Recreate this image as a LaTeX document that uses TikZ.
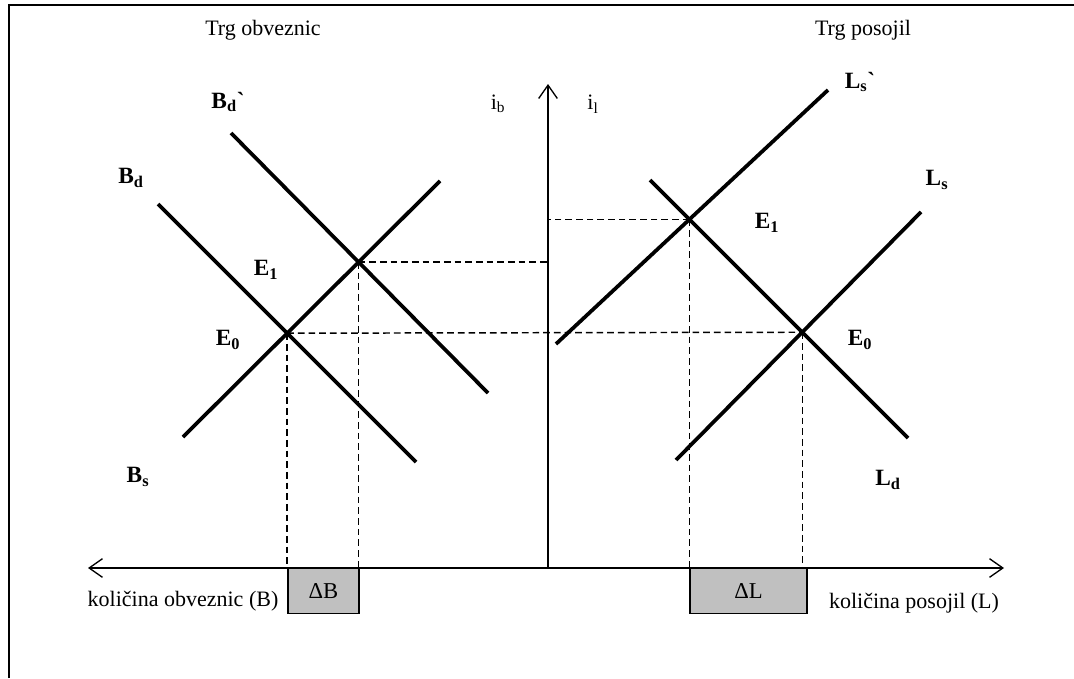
\documentclass[tikz,border=0pt]{standalone}
\usepackage{fontspec}
\setmainfont{Liberation Serif}
\newfontfamily\rawserif{Liberation Serif}
\usetikzlibrary{arrows.meta,intersections}
\newcommand{\grv}{{\rawserif\symbol{96}}}
\definecolor{boxgray}{RGB}{192,192,192}

\begin{document}
\begin{tikzpicture}[
	x = 0.75pt, y = -0.75pt,
	> = {Straight Barb[length=10pt, width=14pt, line width=1pt]}, % open arrow heads
	curve/.style = {line width=2.8pt},
	axis/.style = {line width=1pt},
	guide/.style = {line width=1.1pt, dash pattern=on 5pt off 3pt},
	lbl/.style = {font=\fontsize{17.5}{20}\selectfont\bfseries, inner sep=0pt},
	txt/.style = {font=\fontsize{16.5}{19}\selectfont, inner sep=0pt},
	delta/.style = {draw, line width=1pt, fill=boxgray, anchor=north west,
		font=\fontsize{17}{19}\selectfont, inner sep=0pt}
	]
	
	\useasboundingbox (0,0) rectangle (1074,678);
	
	% frame
	\draw[line width=1.4pt] (9,678) -- (9,5) -- (1074,5);
	
	% axes
	\coordinate (origin) at (548,568);
	\coordinate (xl) at (88,568);
	\coordinate (xr) at (1004,568);
	\coordinate (yt) at (548,84);
	
	% bond market
	\coordinate (bd1) at (158,204);  \coordinate (bd2) at (416,462);
	\coordinate (bdd1) at (231,133); \coordinate (bdd2) at (488,393);
	\coordinate (bs1) at (183,437);  \coordinate (bs2) at (440,181);
	
	% loan market
	\coordinate (ld1) at (650,180);  \coordinate (ld2) at (908,438);
	\coordinate (ls1) at (676,460);  \coordinate (ls2) at (921,212);
	\coordinate (lss1) at (556,344); \coordinate (lss2) at (828,90);
	
	\draw[curve, name path=bd] (bd1) -- (bd2);
	\draw[curve, name path=bdd] (bdd1) -- (bdd2);
	\draw[curve, name path=bs] (bs1) -- (bs2);
	\draw[curve, name path=ld] (ld1) -- (ld2);
	\draw[curve, name path=ls] (ls1) -- (ls2);
	\draw[curve, name path=lss] (lss1) -- (lss2);
	
	\path[name intersections={of=bd and bs, by=Eb0}];
	\path[name intersections={of=bdd and bs, by=Eb1}];
	\path[name intersections={of=ld and ls, by=El0}];
	\path[name intersections={of=ld and lss, by=El1}];
	
	% ΔB and ΔL boxes
	\node[delta, minimum width=53.25pt, minimum height=33.75pt] (dB) at (Eb0 |- origin) {ΔB};
	\node[delta, minimum width=87.75pt, minimum height=33.75pt] (dL) at (El1 |- origin) {ΔL};
	
	% guide lines
	\draw[guide] (Eb0) -- (El0);
	\draw[guide] (Eb1) -- (Eb1 -| origin);
	\draw[guide] (El1) -- (El1 -| origin);
	\draw[guide] (Eb0) -- (Eb0 |- origin);
	\draw[guide] (Eb1) -- (Eb1 |- origin);
	\draw[guide] (El1) -- (El1 |- origin);
	\draw[guide] (El0) -- (El0 |- origin);
	
	\draw[axis, <->] (xl) -- (xr);
	\draw[axis, ->] (origin) -- (yt);
	
	% labels
	\node[txt] (tb) at (263,30) {Trg obveznic};
	\node[txt] (tl) at (863,30) {Trg posojil};
	\node[lbl] (lbdd) at (228,102) {B\textsubscript{d}\grv};
	\node[lbl] (lbd) at (131,178) {B\textsubscript{d}};
	\node[lbl] (lbs) at (138,477) {B\textsubscript{s}};
	\node[lbl] (leb1) at (266,270) {E\textsubscript{1}};
	\node[lbl] (leb0) at (228,340) {E\textsubscript{0}};
	\node[txt] (lib) at (498,104) {i\textsubscript{b}};
	\node[txt] (lil) at (593,104) {i\textsubscript{l}};
	\node[lbl] (llss) at (860,82) {L\textsubscript{s}\grv};
	\node[lbl] (lls) at (937,180) {L\textsubscript{s}};
	\node[lbl] (lld) at (888,480) {L\textsubscript{d}};
	\node[lbl] (lel1) at (767,223) {E\textsubscript{1}};
	\node[lbl] (lel0) at (860,340) {E\textsubscript{0}};
	\node[txt] (qb) at (183,601) {količina obveznic (B)};
	\node[txt] (ql) at (914,603) {količina posojil (L)};
	
\end{tikzpicture}
\end{document}
